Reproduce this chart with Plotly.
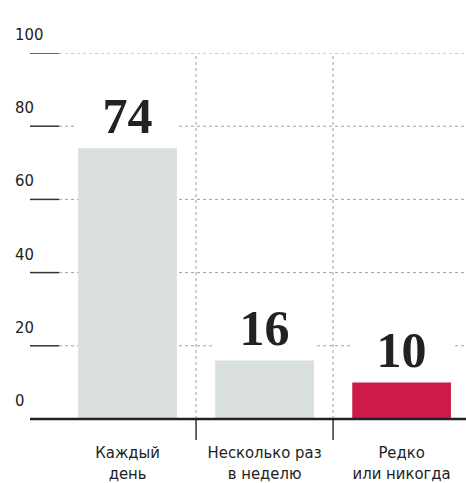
import plotly.graph_objects as go

categories = ["Каждый<br>день", "Несколько раз<br>в неделю", "Редко<br>или никогда"]
values = [74, 16, 10]
bar_colors = ["#d9dfdc", "#d9dfdc", "#cc1a4a"]
y_ticks = [0, 20, 40, 60, 80, 100]

X_MIN, X_MAX = -0.712, 2.47
Y_MIN, Y_MAX = -5.74, 100
GRID_LEFT = -0.5
xs = list(range(len(categories)))
SANS = "DejaVu Sans Condensed, sans-serif"

fig = go.Figure()
fig.add_trace(go.Bar(
    x=xs, y=values, width=0.72,
    marker=dict(color=bar_colors, line=dict(width=0)),
    hoverinfo="skip",
))

shapes = []
for t in y_ticks:
    shapes.append(dict(type="line", xref="x", yref="y", x0=GRID_LEFT, x1=X_MAX, y0=t, y1=t,
                       line=dict(color="#a0a0a0", width=1, dash="dot"), layer="below"))
    shapes.append(dict(type="line", xref="x", yref="y", x0=X_MIN, x1=GRID_LEFT, y0=t, y1=t,
                       line=dict(color="#333333", width=1.5), layer="below"))
for b in [0.5, 1.5]:
    shapes.append(dict(type="line", xref="x", yref="y", x0=b, x1=b, y0=0, y1=100,
                       line=dict(color="#a0a0a0", width=1, dash="dot"), layer="below"))
    shapes.append(dict(type="line", xref="x", yref="y", x0=b, x1=b, y0=Y_MIN, y1=0,
                       line=dict(color="#333333", width=1.5), layer="above"))
shapes.append(dict(type="line", xref="x", yref="y", x0=X_MIN, x1=X_MAX, y0=0, y1=0,
                   line=dict(color="#222222", width=2.5), layer="above"))

annotations = []
for t in y_ticks:
    annotations.append(dict(x=X_MIN, y=t, xref="x", yref="y", text=str(t), showarrow=False,
                            xanchor="left", yanchor="bottom", xshift=-17, yshift=7,
                            font=dict(family=SANS, size=16.5, color="#222222")))
for x, v in zip(xs, values):
    annotations.append(dict(x=x, y=v, xref="x", yref="y", text=f"<b>{v}</b>", showarrow=False,
                            xanchor="center", yanchor="bottom", yshift=10,
                            width=99, height=48, bgcolor="white", valign="top",
                            font=dict(family="Liberation Serif, serif", size=50, color="#222222")))

fig.update_layout(
    width=466, height=483,
    margin=dict(l=30, r=0, t=53, b=43),
    plot_bgcolor="white", paper_bgcolor="white",
    showlegend=False,
    shapes=shapes, annotations=annotations,
    xaxis=dict(range=[X_MIN, X_MAX], tickvals=xs, ticktext=categories,
               showgrid=False, zeroline=False, showline=False, ticks="",
               tickfont=dict(family=SANS, size=16.5, color="#222222")),
    yaxis=dict(range=[Y_MIN, Y_MAX], showgrid=False, zeroline=False, showline=False,
               showticklabels=False, ticks=""),
)

fig.write_html("out.html", config={"displayModeBar": False},
               post_script="document.body.style.margin='0';document.body.style.overflow='hidden';")
